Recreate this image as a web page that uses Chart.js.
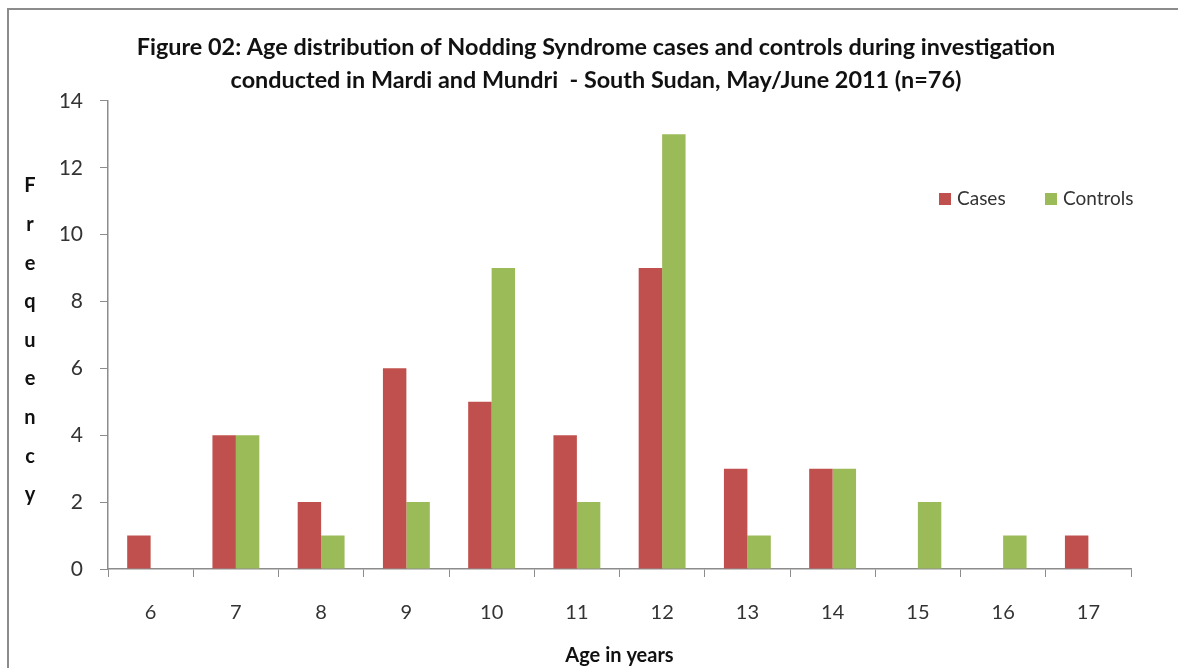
<!DOCTYPE html>
<html>
<head>
<meta charset="utf-8">
<script src="https://cdn.jsdelivr.net/npm/chart.js@4.4.1/dist/chart.umd.min.js"></script>
<style>
  html, body { margin: 0; padding: 0; background: #fff; }
  #wrap { position: relative; width: 1178px; height: 668px; }
  #frame { position: absolute; left: 7px; top: 8px; right: -4px; bottom: -4px; border-left: 2px solid #8c8c8c; border-top: 2px solid #8c8c8c; pointer-events: none; }
  canvas { position: absolute; left: 0; top: 0; }
</style>
</head>
<body>
<div id="wrap">
  <canvas id="chart" width="1178" height="668"></canvas>
  <div id="frame"></div>
</div>
<script>
const ages = ['6', '7', '8', '9', '10', '11', '12', '13', '14', '15', '16', '17'];
const cases = [1, 4, 2, 6, 5, 4, 9, 3, 3, 0, 0, 1];
const controls = [0, 4, 1, 2, 9, 2, 13, 1, 3, 2, 1, 0];
const yTicks = [0, 2, 4, 6, 8, 10, 12, 14];
const titleLines = [
  'Figure 02: Age distribution of Nodding Syndrome cases and controls during investigation',
  'conducted in Mardi and Mundri  - South Sudan, May/June 2011 (n=76)'
];
const yTitle = 'Frequency';

const FONT = 'Lato, "Open Sans", sans-serif';
const TEXT = '#333';

// stacked letters for the y title + legend sitting inside the plot
const extras = {
  id: 'extras',
  afterDraw(chart) {
    const ctx = chart.ctx;
    ctx.save();
    ctx.fillStyle = '#111';
    ctx.font = 'bold 20px ' + FONT;
    ctx.textAlign = 'center';
    ctx.textBaseline = 'middle';
    yTitle.split('').forEach((ch, i) => ctx.fillText(ch, 30, 186 + i * 38.6));

    ctx.font = '19px ' + FONT;
    ctx.textAlign = 'left';
    const legendX = [939, 1045];
    chart.data.datasets.forEach((ds, i) => {
      ctx.fillStyle = ds.backgroundColor;
      ctx.fillRect(legendX[i], 193, 12, 12);
      ctx.fillStyle = TEXT;
      ctx.fillText(ds.label, legendX[i] + 18, 199);
    });
    ctx.restore();
  }
};

new Chart(document.getElementById('chart'), {
  type: 'bar',
  data: {
    labels: ages,
    datasets: [
      { label: 'Cases', data: cases, backgroundColor: '#C0504D' },
      { label: 'Controls', data: controls, backgroundColor: '#9BBB59' },
    ],
  },
  options: {
    responsive: false,
    animation: false,
    events: [],
    // left padding only shifts the title centre; y scale box is sized to land the axis at x=108
    layout: { padding: { top: 0, right: 47, bottom: 0, left: 61 } },
    datasets: { bar: { categoryPercentage: 0.55, barPercentage: 1 } },
    scales: {
      x: {
        offset: true,
        grid: { offset: true, drawOnChartArea: false, drawTicks: true, tickLength: 8, color: '#8c8c8c' },
        border: { color: '#8c8c8c', width: 1.5 },
        ticks: { color: TEXT, font: { family: FONT, size: 20 }, padding: 24 },
        title: { display: true, text: 'Age in years', color: '#111', font: { family: FONT, size: 20, weight: 'bold' }, padding: { top: 12, bottom: 0 } },
        afterFit: s => { s.height = 99; },
      },
      y: {
        min: 0, max: 14,
        afterBuildTicks: s => { s.ticks = yTicks.map(v => ({ value: v })); },
        grid: { drawOnChartArea: false, drawTicks: true, tickLength: 8, color: '#8c8c8c' },
        border: { color: '#8c8c8c', width: 1.5 },
        ticks: { color: TEXT, font: { family: FONT, size: 21 }, padding: 17 },
        afterFit: s => { s.width = 47; },
      },
    },
    plugins: {
      legend: { display: false },
      tooltip: { enabled: false },
      title: {
        display: true,
        text: titleLines,
        color: '#111',
        font: { family: FONT, size: 23.4, weight: 'bold', lineHeight: 1.45 },
        padding: { top: 30, bottom: 3 },
      },
    },
  },
  plugins: [extras],
});
</script>
</body>
</html>
